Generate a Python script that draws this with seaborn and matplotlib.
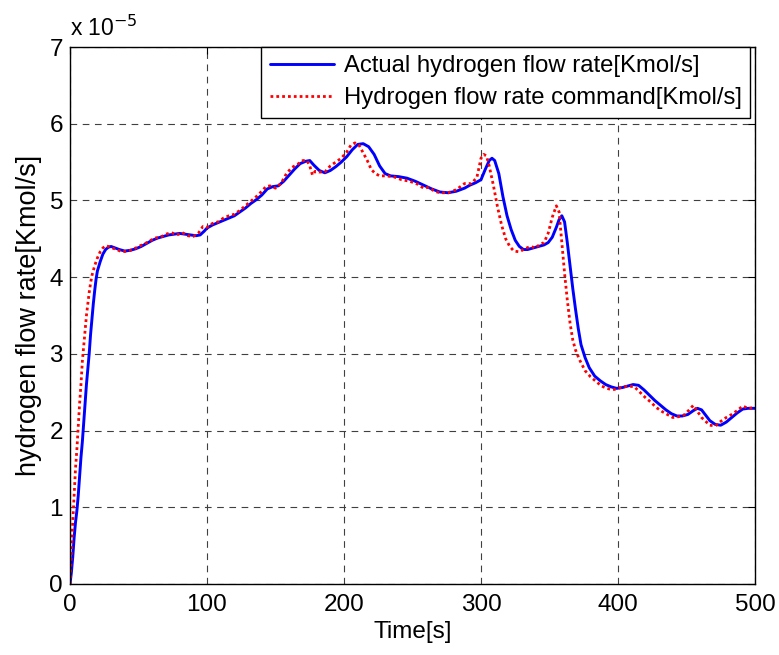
import matplotlib
matplotlib.use("Agg")
import matplotlib.pyplot as plt
import seaborn as sns
import numpy as np

# Actual hydrogen flow rate (units of 1e-5 Kmol/s)
actual_t = [0, 1, 2, 3, 4, 5, 6, 7, 8, 9, 10, 11, 12, 13, 14, 15, 16, 17, 18, 19, 20,
            22, 24, 26, 28, 30, 33, 36, 40, 44, 48, 52, 56, 60, 64, 68, 72, 76, 80, 84,
            88, 92, 95, 98, 100, 104, 108, 112, 116, 120, 124, 128, 132, 136, 140, 144,
            148, 152, 156, 160, 164, 168, 172, 175, 178, 182, 186, 190, 194, 198, 202,
            206, 210, 214, 218, 222, 226, 230, 234, 240, 246, 252, 258, 264, 270, 276,
            282, 288, 292, 296, 300, 303, 306, 308, 310, 313, 316, 319, 322, 325, 328,
            331, 334, 338, 342, 346, 349, 352, 355, 357, 359, 361, 363, 365, 367, 369,
            371, 373, 376, 379, 383, 387, 391, 395, 399, 403, 407, 411, 415, 419, 423,
            427, 431, 435, 439, 443, 447, 451, 455, 458, 461, 464, 467, 471, 475, 479,
            483, 487, 491, 495, 500]
actual_v = [0.0, 0.15, 0.35, 0.6, 0.8, 0.95, 1.15, 1.4, 1.65, 1.85, 2.1, 2.35, 2.6, 2.8,
            3.0, 3.25, 3.45, 3.65, 3.82, 3.97, 4.08, 4.2, 4.3, 4.36, 4.39, 4.4, 4.38, 4.36,
            4.34, 4.35, 4.37, 4.40, 4.44, 4.48, 4.51, 4.53, 4.55, 4.56, 4.57, 4.56, 4.55,
            4.54, 4.55, 4.60, 4.64, 4.68, 4.71, 4.74, 4.77, 4.80, 4.85, 4.90, 4.96, 5.01,
            5.07, 5.15, 5.18, 5.19, 5.25, 5.33, 5.41, 5.48, 5.51, 5.52, 5.46, 5.39, 5.36,
            5.39, 5.44, 5.50, 5.57, 5.66, 5.73, 5.74, 5.70, 5.60, 5.45, 5.35, 5.32, 5.31,
            5.29, 5.25, 5.20, 5.15, 5.11, 5.10, 5.12, 5.16, 5.20, 5.23, 5.27, 5.40, 5.52,
            5.55, 5.52, 5.35, 5.05, 4.80, 4.62, 4.48, 4.40, 4.36, 4.36, 4.38, 4.40, 4.42,
            4.45, 4.52, 4.65, 4.75, 4.80, 4.72, 4.45, 4.15, 3.85, 3.58, 3.33, 3.12, 2.95,
            2.82, 2.71, 2.65, 2.60, 2.57, 2.55, 2.56, 2.58, 2.60, 2.59, 2.53, 2.46, 2.39,
            2.33, 2.27, 2.22, 2.19, 2.19, 2.21, 2.26, 2.29, 2.27, 2.20, 2.13, 2.08, 2.07,
            2.11, 2.17, 2.23, 2.28, 2.29, 2.29]

# Hydrogen flow rate command (units of 1e-5 Kmol/s)
command_t = [0, 1, 2, 3, 4, 5, 6, 7, 8, 9, 10, 11, 12, 13, 14, 15, 16, 18, 20, 22, 24,
             26, 28, 31, 34, 38, 42, 46, 50, 54, 58, 62, 66, 70, 74, 78, 82, 86, 90, 94,
             97, 100, 104, 108, 112, 116, 120, 124, 128, 132, 136, 140, 143, 146, 150,
             154, 158, 162, 166, 170, 173, 175, 177, 179, 182, 186, 190, 194, 198, 202,
             205, 208, 211, 214, 217, 220, 223, 226, 230, 236, 242, 248, 254, 258, 262,
             266, 270, 276, 282, 288, 293, 297, 300, 302, 304, 306, 309, 312, 315, 318,
             321, 324, 328, 332, 336, 340, 343, 346, 349, 352, 355, 357, 359, 361, 363,
             365, 367, 369, 372, 376, 380, 384, 388, 392, 396, 400, 404, 408, 412, 416,
             420, 424, 428, 432, 436, 440, 444, 448, 452, 455, 458, 461, 464, 467, 471,
             475, 479, 483, 487, 491, 495, 500]
command_v = [0.0, 0.4, 0.8, 1.15, 1.5, 1.75, 2.05, 2.35, 2.6, 2.9, 3.1, 3.3, 3.5, 3.65,
             3.8, 3.92, 4.02, 4.15, 4.25, 4.33, 4.38, 4.41, 4.40, 4.38, 4.36, 4.33, 4.34,
             4.36, 4.40, 4.43, 4.47, 4.51, 4.52, 4.56, 4.58, 4.55, 4.58, 4.54, 4.53, 4.58,
             4.66, 4.65, 4.70, 4.72, 4.77, 4.80, 4.82, 4.87, 4.93, 4.99, 5.05, 5.12, 5.18,
             5.19, 5.16, 5.22, 5.35, 5.43, 5.47, 5.52, 5.52, 5.45, 5.33, 5.38, 5.37, 5.37,
             5.45, 5.50, 5.55, 5.63, 5.72, 5.75, 5.72, 5.62, 5.52, 5.40, 5.35, 5.32, 5.32,
             5.31, 5.27, 5.25, 5.21, 5.16, 5.17, 5.12, 5.10, 5.10, 5.14, 5.22, 5.22, 5.30,
             5.55, 5.60, 5.58, 5.45, 5.20, 4.92, 4.68, 4.50, 4.40, 4.34, 4.33, 4.37, 4.40,
             4.38, 4.43, 4.45, 4.57, 4.78, 4.93, 4.85, 4.45, 4.05, 3.70, 3.40, 3.18, 3.05,
             2.92, 2.78, 2.70, 2.64, 2.58, 2.55, 2.53, 2.55, 2.57, 2.58, 2.57, 2.50, 2.43,
             2.37, 2.30, 2.25, 2.21, 2.17, 2.18, 2.20, 2.27, 2.33, 2.25, 2.17, 2.12, 2.07,
             2.06, 2.12, 2.17, 2.21, 2.26, 2.32, 2.29, 2.30]

x_ticks = [0, 100, 200, 300, 400, 500]
y_ticks = [0, 1, 2, 3, 4, 5, 6, 7]

sns.set_style("white")
plt.rcParams["font.family"] = ["Liberation Sans", "DejaVu Sans"]
plt.rcParams["xtick.direction"] = "in"
plt.rcParams["ytick.direction"] = "in"
plt.rcParams["text.color"] = "black"
plt.rcParams["axes.labelcolor"] = "black"
plt.rcParams["xtick.color"] = "black"
plt.rcParams["ytick.color"] = "black"

fig = plt.figure(figsize=(7.79, 6.55), dpi=100)
ax = fig.add_axes([70 / 779, 71 / 655, 685 / 779, 537 / 655])

sns.lineplot(x=actual_t, y=actual_v, ax=ax, color="#0000ff", linewidth=2.1,
             label="Actual hydrogen flow rate[Kmol/s]", estimator=None, sort=False)
sns.lineplot(x=command_t, y=command_v, ax=ax, color="#ff0000", linewidth=2.0,
             label="Hydrogen flow rate command[Kmol/s]", estimator=None, sort=False)
ax.lines[1].set_linestyle((0, (1, 1.1)))

ax.set_xlim(0, 500)
ax.set_ylim(0, 7)
ax.set_xticks(x_ticks)
ax.set_yticks(y_ticks)
ax.tick_params(axis="x", labelsize=17.5, pad=7)
ax.tick_params(axis="y", labelsize=17.5, pad=5)
ax.tick_params(axis="both", which="both", length=5, width=0.8,
               top=True, right=True, colors="black")
ax.grid(True, color="#404040", linestyle=(0, (6, 5)), linewidth=0.8)
for sp in ax.spines.values():
    sp.set_color("black")
    sp.set_linewidth(1.0)

ax.set_xlabel("Time[s]", fontsize=17.5, labelpad=4, color="black")
ax.set_ylabel("hydrogen flow rate[Kmol/s]", fontsize=19.5, labelpad=5, color="black")
ax.text(0.0, 1.012, r"x 10$^{-5}$", transform=ax.transAxes, fontsize=16.5,
        ha="left", va="bottom", color="black")

leg = ax.legend(loc="upper right", bbox_to_anchor=(680 / 685, 1.0), fontsize=17.2,
                frameon=True, fancybox=False, borderaxespad=0.0, handlelength=2.7,
                handletextpad=0.4, borderpad=0.35, labelspacing=0.42)
leg.get_frame().set_edgecolor("black")
leg.get_frame().set_linewidth(1.0)
leg.get_frame().set_alpha(1)
for txt in leg.get_texts():
    txt.set_color("black")

fig.savefig("out.png", dpi=100, facecolor="white")
